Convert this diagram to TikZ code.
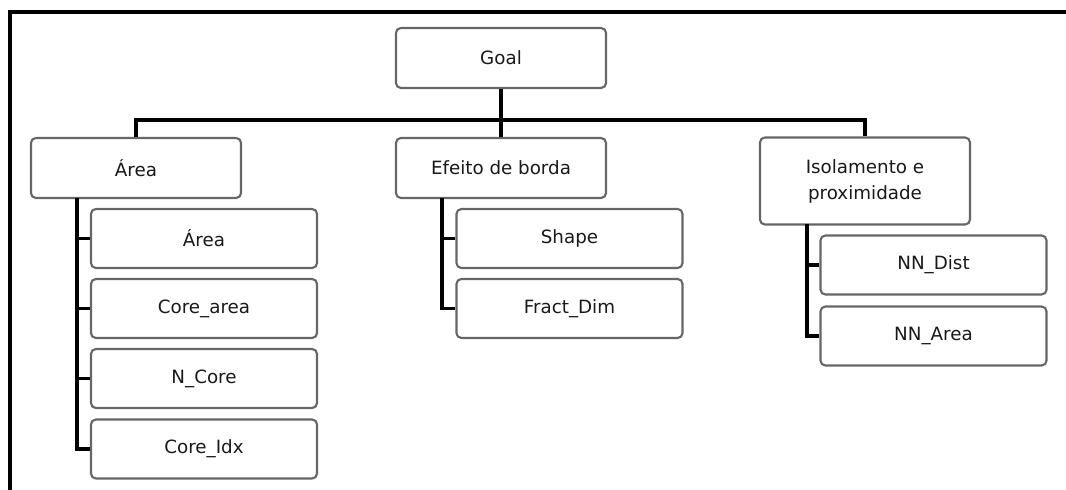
\documentclass[tikz,border=0pt]{standalone}
\usepackage{fontspec}
\setmainfont{DejaVu Sans}
\usetikzlibrary{calc}

\tikzset{
  box/.style={draw=black!60, line width=1.5pt, rounded corners=3.5pt, fill=white,
    text=black!90, minimum width=5.25cm, minimum height=1.5cm, align=center,
    inner sep=2pt, font=\fontsize{13}{18.5}\selectfont},
  leaf/.style={box, minimum width=5.65cm, minimum height=1.475cm},
  link/.style={line width=2.4pt, black},
  frame/.style={line width=2.8pt, black},
}

\begin{document}
\begin{tikzpicture}[x=0.025cm, y=-0.025cm]
    \useasboundingbox (0, 0) rectangle (1066, 490);
    \draw[frame] (1070, 12) -- (10, 12) -- (10, 495);

    % top and middle level
    \node[box] (goal) at (501, 58) {Goal};
    \node[box] (area) at (136, 168) {Área};
    \node[box] (borda) at (501, 168) {Efeito de borda};
    \node[box, minimum height=2.175cm] (isol) at (865, 181) {Isolamento e\\proximidade};

    % leaves
    \node[leaf] (a1) at (204, 238.5) {Área};
    \node[leaf] (a2) at (204, 308.5) {Core\_area};
    \node[leaf] (a3) at (204, 378.5) {N\_Core};
    \node[leaf] (a4) at (204, 449) {Core\_Idx};
    \node[leaf] (b1) at (569.5, 238.5) {Shape};
    \node[leaf] (b2) at (569.5, 308.5) {Fract\_Dim};
    \node[leaf] (c1) at (933.5, 265) {NN\_Dist};
    \node[leaf] (c2) at (933.5, 336) {NN\_Area};

    \coordinate (bus) at (501, 120);
    \coordinate (aTrunk) at (77, 198);
    \coordinate (bTrunk) at (442, 198);
    \coordinate (cTrunk) at (807, 224.5);

    \draw[link] (goal.south) -- (borda.north);
    \draw[link] (area.north) -- (area.north |- bus) -- (isol.north |- bus) -- (isol.north);

    \foreach \n in {a1, a2, a3, a4}
      \draw[link] (aTrunk) |- (\n.west);
    \foreach \n in {b1, b2}
      \draw[link] (bTrunk) |- (\n.west);
    \foreach \n in {c1, c2}
      \draw[link] (cTrunk) |- (\n.west);
\end{tikzpicture}
\end{document}
